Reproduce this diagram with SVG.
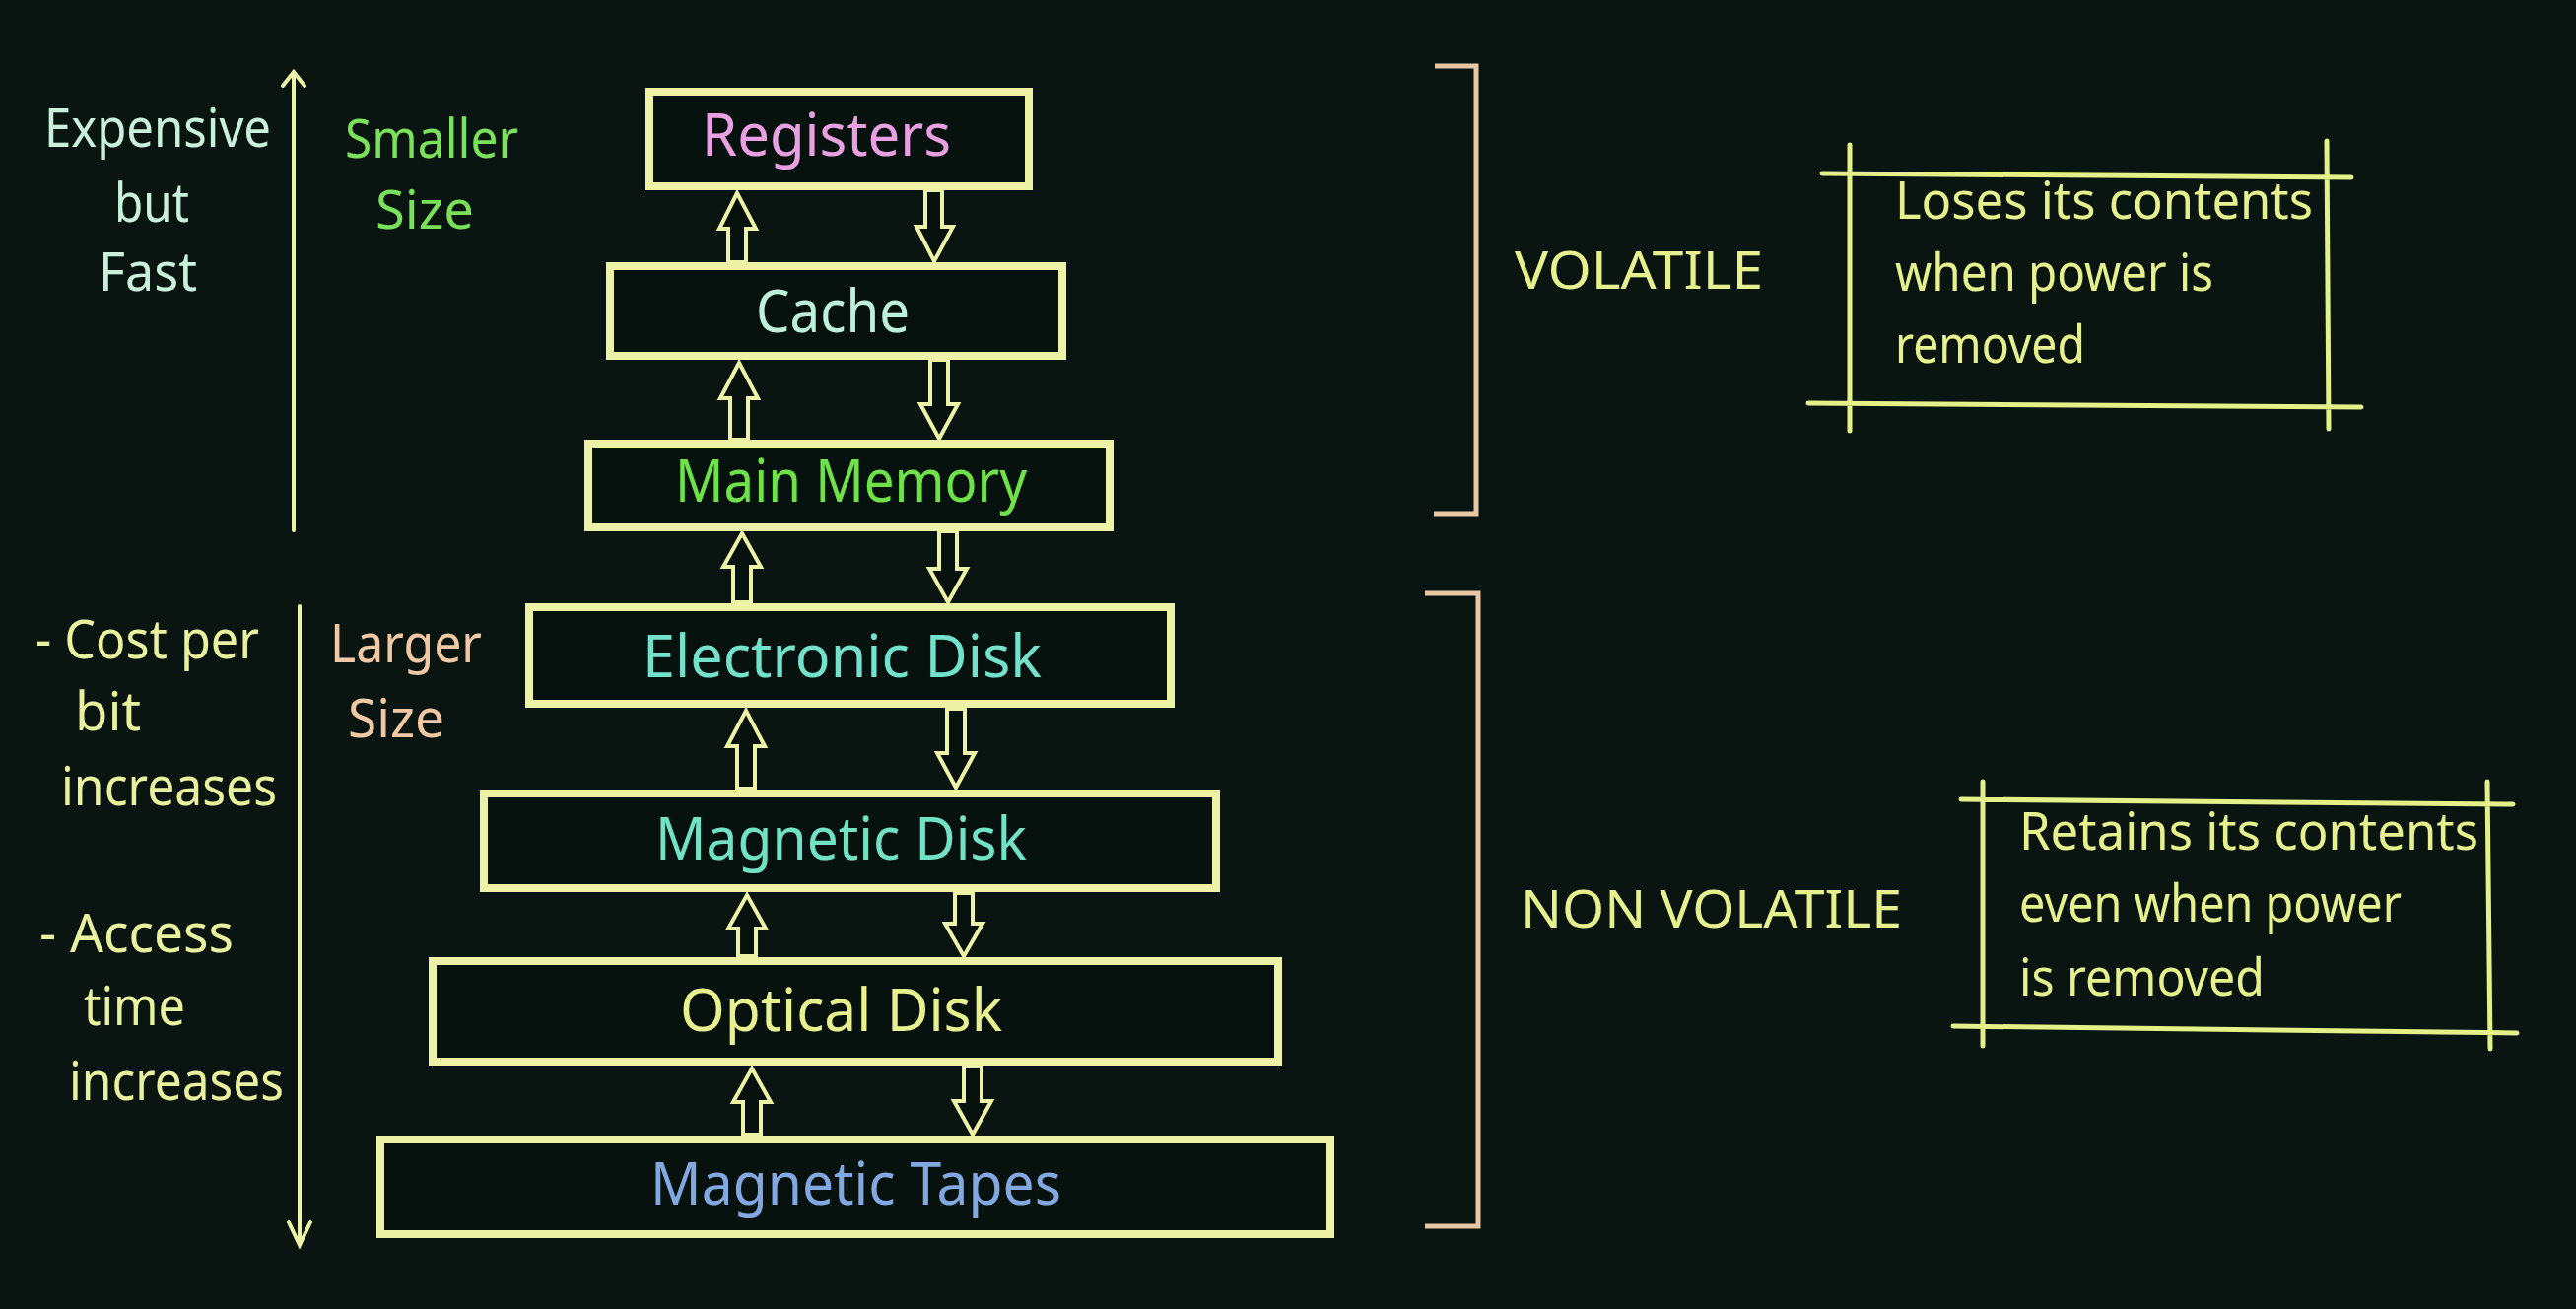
<svg xmlns="http://www.w3.org/2000/svg" width="2614" height="1328" viewBox="0 0 2614 1328">
<defs>
<style>
text{font-family:"Noto Sans","DejaVu Sans",sans-serif;}
.box{fill:#07110e;stroke:#eef2a6;stroke-width:8;}
.arw{fill:#07110e;stroke:#eef2a6;stroke-width:4;stroke-linejoin:miter;}
.axis{fill:none;stroke:#eef2a6;stroke-width:4;stroke-linecap:round;}
.brk{fill:none;stroke:#e8c7a4;stroke-width:5;}
.frm{fill:none;stroke:#e4f088;stroke-width:5;stroke-linecap:round;}
.nt{font-size:60px;}
.lt{font-size:54px;}
.rt{font-size:52px;fill:#e6f08c;}
</style>
</defs>
<rect width="2614" height="1328" fill="#0a1512"/>

<g id="connectors">
<path class="arw" d="M748,196 L767,232 L757,232 L757,266 L739,266 L739,232 L730,232 Z"/>
<path class="arw" d="M939,193 L956,193 L956,230 L967,230 L948,265 L930,230 L939,230 Z"/>
<path class="arw" d="M750,368 L769,404 L759,404 L759,446 L741,446 L741,404 L731,404 Z"/>
<path class="arw" d="M944,365 L962,365 L962,410 L972,410 L953,445 L934,410 L944,410 Z"/>
<path class="arw" d="M753,541 L772,575 L762,575 L762,611 L744,611 L744,575 L734,575 Z"/>
<path class="arw" d="M953,539 L971,539 L971,577 L981,577 L962,611 L943,577 L953,577 Z"/>
<path class="arw" d="M757,721 L776,757 L766,757 L766,800 L748,800 L748,757 L738,757 Z"/>
<path class="arw" d="M961,719 L979,719 L979,764 L989,764 L970,799 L951,764 L961,764 Z"/>
<path class="arw" d="M758,908 L777,942 L767,942 L767,970 L749,970 L749,942 L739,942 Z"/>
<path class="arw" d="M969,906 L987,906 L987,937 L997,937 L978,970 L959,937 L969,937 Z"/>
<path class="arw" d="M763,1084 L782,1118 L772,1118 L772,1151 L754,1151 L754,1118 L744,1118 Z"/>
<path class="arw" d="M978,1082 L996,1082 L996,1117 L1006,1117 L987,1151 L968,1117 L978,1117 Z"/>
</g>

<g id="registers"><rect class="box" x="659" y="93" width="385" height="96"/><text class="nt" x="712" y="158" fill="#e9a0e2" textLength="253" lengthAdjust="spacingAndGlyphs">Registers</text></g>
<g id="cache"><rect class="box" x="619" y="270" width="459" height="91"/><text class="nt" x="767" y="337" fill="#bdf0dc" textLength="156" lengthAdjust="spacingAndGlyphs">Cache</text></g>
<g id="main-memory"><rect class="box" x="597" y="450" width="529" height="85"/><text class="nt" x="685" y="509" fill="#6fe24a" textLength="357" lengthAdjust="spacingAndGlyphs">Main Memory</text></g>
<g id="electronic-disk"><rect class="box" x="537" y="616" width="651" height="98"/><text class="nt" x="652" y="687" fill="#72e2cc" textLength="405" lengthAdjust="spacingAndGlyphs">Electronic Disk</text></g>
<g id="magnetic-disk"><rect class="box" x="491" y="805" width="743" height="96"/><text class="nt" x="665" y="872" fill="#72e2c4" textLength="377" lengthAdjust="spacingAndGlyphs">Magnetic Disk</text></g>
<g id="optical-disk"><rect class="box" x="439" y="975" width="858" height="102"/><text class="nt" x="690" y="1046" fill="#e9f08e" textLength="327" lengthAdjust="spacingAndGlyphs">Optical Disk</text></g>
<g id="magnetic-tapes"><rect class="box" x="386" y="1156" width="964" height="96"/><text class="nt" x="660" y="1222" fill="#82a8e2" textLength="417" lengthAdjust="spacingAndGlyphs">Magnetic Tapes</text></g>

<g id="axes">
<path class="axis" d="M298,538 L298,73 M287,87 L298,73 L309,87"/>
<path class="axis" d="M304,615 L304,1263 M293,1240 L304,1263 L315,1240"/>
</g>

<g id="left-top">
<text class="lt" x="45" y="149" fill="#c9f0da" textLength="230" lengthAdjust="spacingAndGlyphs">Expensive</text>
<text class="lt" x="116" y="225" fill="#c9f0da" textLength="76" lengthAdjust="spacingAndGlyphs">but</text>
<text class="lt" x="100" y="295" fill="#c9f0da" textLength="100" lengthAdjust="spacingAndGlyphs">Fast</text>
<text class="lt" x="350" y="160" fill="#7ae25a" textLength="176" lengthAdjust="spacingAndGlyphs">Smaller</text>
<text class="lt" x="381" y="232" fill="#7ae25a" textLength="100" lengthAdjust="spacingAndGlyphs">Size</text>
</g>

<g id="left-bottom">
<text class="lt" x="36" y="668" fill="#e9f09e" textLength="227" lengthAdjust="spacingAndGlyphs">- Cost per</text>
<text class="lt" x="76" y="741" fill="#e9f09e" textLength="67" lengthAdjust="spacingAndGlyphs">bit</text>
<text class="lt" x="62" y="817" fill="#e9f09e" textLength="219" lengthAdjust="spacingAndGlyphs">increases</text>
<text class="lt" x="40" y="966" fill="#e9f09e" textLength="197" lengthAdjust="spacingAndGlyphs">- Access</text>
<text class="lt" x="85" y="1040" fill="#e9f09e" textLength="103" lengthAdjust="spacingAndGlyphs">time</text>
<text class="lt" x="70" y="1116" fill="#e9f09e" textLength="218" lengthAdjust="spacingAndGlyphs">increases</text>
<text class="lt" x="335" y="672" fill="#f0c9a4" textLength="154" lengthAdjust="spacingAndGlyphs">Larger</text>
<text class="lt" x="353" y="748" fill="#f0c9a4" textLength="98" lengthAdjust="spacingAndGlyphs">Size</text>
</g>

<g id="volatile">
<path class="brk" d="M1456,67 L1498,67 L1498,521 L1455,521"/>
<text class="rt" x="1537" y="293" textLength="252" lengthAdjust="spacingAndGlyphs">VOLATILE</text>
<path class="frm" d="M1849,176 L2386,180 M1835,409 L2396,413 M1877,147 L1877,437 M2361,143 L2363,435"/>
<text class="rt" x="1923" y="222" textLength="424" lengthAdjust="spacingAndGlyphs">Loses its contents</text>
<text class="rt" x="1923" y="295" textLength="323" lengthAdjust="spacingAndGlyphs">when power is</text>
<text class="rt" x="1923" y="368" textLength="193" lengthAdjust="spacingAndGlyphs">removed</text>
</g>

<g id="non-volatile">
<path class="brk" d="M1446,602 L1500,602 L1500,1244 L1446,1244"/>
<text class="rt" x="1543" y="941" textLength="387" lengthAdjust="spacingAndGlyphs">NON VOLATILE</text>
<path class="frm" d="M1990,811 L2550,816 M1982,1041 L2554,1048 M2012,793 L2012,1061 M2524,793 L2527,1064"/>
<text class="rt" x="2049" y="862" textLength="466" lengthAdjust="spacingAndGlyphs">Retains its contents</text>
<text class="rt" x="2049" y="935" textLength="388" lengthAdjust="spacingAndGlyphs">even when power</text>
<text class="rt" x="2049" y="1010" textLength="249" lengthAdjust="spacingAndGlyphs">is removed</text>
</g>
</svg>
